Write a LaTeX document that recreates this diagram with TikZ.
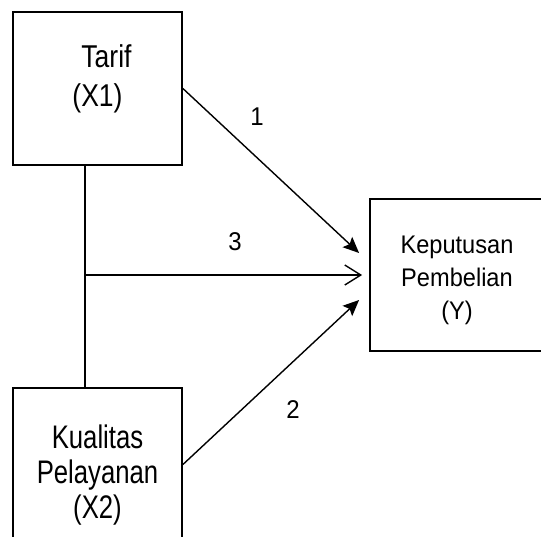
\documentclass[tikz,border=0pt]{standalone}
\usepackage{fontspec}
\setmainfont{Liberation Sans}
\usepackage{graphicx}
\usetikzlibrary{positioning,arrows.meta,calc}
% shift, vertical stretch, size, skip, lines
\newcommand{\boxtext}[5]{\raisebox{#1}[\height][\depth]{\scalebox{1}[#2]{\fontsize{#3}{#4}\selectfont\begin{tabular}{@{}c@{}}#5\end{tabular}}}}
\tikzset{
  varbox/.style={draw,line width=1.8pt,minimum width=169pt,minimum height=153pt,align=center,inner sep=0pt},
  link/.style={line width=1.4pt},
  solidtip/.style={-{Stealth[length=16pt,width=14pt,inset=3pt]}},
  opentip/.style={-{Straight Barb[length=16pt,width=20pt]}}
}
\begin{document}
\begin{tikzpicture}[x=1pt,y=-1pt,font=\fontsize{24}{34}\selectfont]
  \useasboundingbox (0,0) rectangle (541,536);
  \clip (0,0) rectangle (541,536);
  % variables
  \node[varbox] (tarif) at (97.5,88.5) {\boxtext{9.3pt}{1.19}{26.5}{32.2}{\hspace*{18pt}Tarif\\(X1)}};
  \node[varbox] (kualitas) at (97.5,464.5) {\boxtext{-11.6pt}{1.27}{25.7}{27.6}{Kualitas\\Pelayanan\\(X2)}};
  \node[varbox,minimum width=174pt,minimum height=152pt] (keputusan) at (457,275) {\boxtext{-5pt}{1.08}{23.6}{30.8}{Keputusan\\Pembelian\\(Y)}};
  % links
  \coordinate (tap) at ($(tarif.south west)!0.426!(tarif.south east)$);
  \draw[link] (tap) -- (tap |- kualitas.north);
  \draw[link,opentip,shorten >=7pt] (tap |- keputusan.west) -- (keputusan.west);
  \draw[link,solidtip] (tarif.east) -- ($(keputusan.west)+(-10pt,22pt)$);
  \draw[link,solidtip] (kualitas.east) -- ($(keputusan.west)+(-10pt,-25pt)$);
  \node (n1) at (257,117) {\scalebox{1}[1.07]{1}};
  \node (n2) at (293,410) {\scalebox{1}[1.07]{2}};
  \node (n3) at (235,242) {\scalebox{1}[1.07]{3}};
\end{tikzpicture}
\end{document}
